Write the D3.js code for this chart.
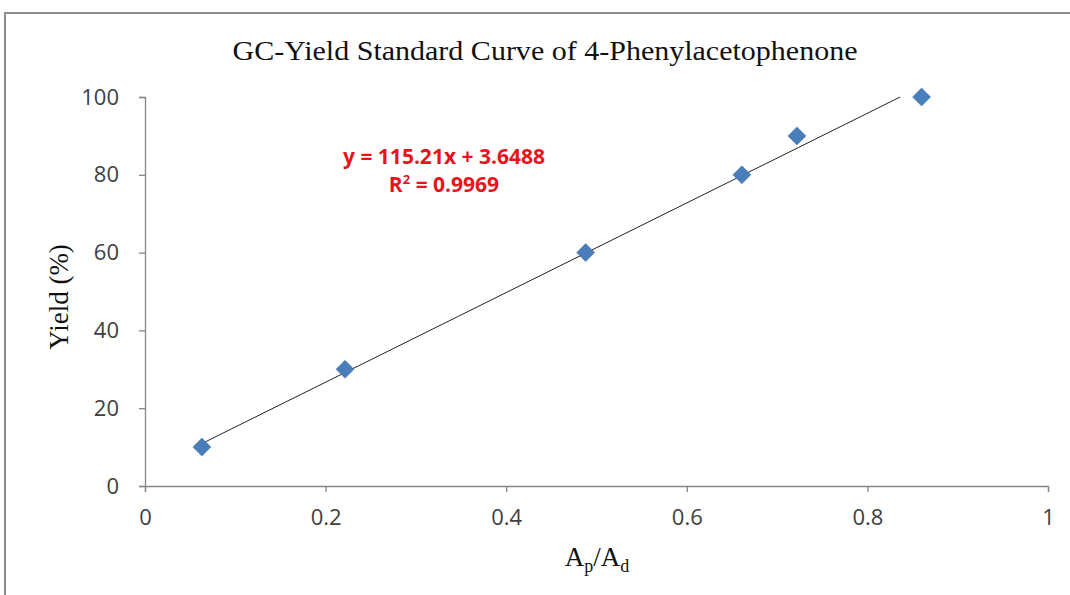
<!DOCTYPE html>
<meta charset="utf-8">
<style>
  body { margin: 0; background: #fff; }
  text { fill: #404040; }
</style>
<body>
<script src="https://cdn.jsdelivr.net/npm/d3@7"></script>
<script>

    var ratio = [0.063, 0.2215, 0.488, 0.661, 0.722, 0.860];
    var yieldPct = [10, 30, 60, 80, 90, 100];
    var xTicks = [0, 0.2, 0.4, 0.6, 0.8, 1];
    var yTicks = [0, 20, 40, 60, 80, 100];
    var slope = 115.21, intercept = 3.6488;

    var w = 1070, h = 595;

    var svg = d3.select("body")
            .append("svg")
            .attr("width", w)
            .attr("height", h);

    // chart border
    svg.append("rect")
            .attr("x", 5).attr("y", 13)
            .attr("width", 1100).attr("height", 700)
            .attr("fill", "none")
            .attr("stroke", "#8a8a8a")
            .attr("stroke-width", 2);

    var x = d3.scaleLinear().domain([0, 1]).range([145, 1048]);
    var y = d3.scaleLinear().domain([0, 100]).range([486, 97]);

    // axes
    var xAxis = svg.append("g")
            .attr("transform", "translate(0," + y(0) + ")")
            .call(d3.axisBottom(x).tickValues(xTicks).tickSize(6).tickFormat(d3.format("")));
    var yAxis = svg.append("g")
            .attr("transform", "translate(" + x(0) + ",0)")
            .call(d3.axisLeft(y).tickValues(yTicks).tickSize(6).tickFormat(d3.format("")));

    [xAxis, yAxis].forEach(function(g) {
        g.select(".domain").attr("stroke", "#868686").attr("stroke-width", 1.3);
        g.selectAll(".tick line").attr("stroke", "#868686").attr("stroke-width", 1.3);
        g.selectAll(".tick text")
                .attr("fill", "#404040")
                .style("font-family", "'Open Sans', sans-serif")
                .style("font-size", "22px");
    });
    xAxis.selectAll(".tick text").attr("y", 39).attr("dy", 0);
    yAxis.selectAll(".tick text").attr("x", -26);

    // trend line, from first point to top of the axis
    var x0 = d3.min(ratio), x1 = (100 - intercept) / slope;
    svg.append("line")
            .attr("x1", x(x0)).attr("y1", y(slope * x0 + intercept))
            .attr("x2", x(x1)).attr("y2", y(slope * x1 + intercept))
            .attr("stroke", "#222")
            .attr("stroke-width", 1);

    // diamond markers
    svg.selectAll("path.pt")
            .data(ratio)
            .enter()
            .append("path")
            .attr("class", "pt")
            .attr("transform", function(d, i) { return "translate(" + x(d) + "," + y(yieldPct[i]) + ")"; })
            .attr("d", "M0,-9L9,0L0,9L-9,0Z")
            .attr("fill", "#4a7ebb")
            .attr("stroke", "#3d6ea8")
            .attr("stroke-width", 0.5);

    // title
    svg.append("text")
            .attr("x", 545).attr("y", 60)
            .attr("text-anchor", "middle")
            .attr("textLength", 625)
            .attr("lengthAdjust", "spacingAndGlyphs")
            .style("font-family", "'Liberation Serif', serif")
            .style("font-size", "27px")
            .style("fill", "#111")
            .text("GC-Yield Standard Curve of 4-Phenylacetophenone");

    // axis titles
    svg.append("text")
            .attr("transform", "translate(68,297) rotate(-90)")
            .attr("text-anchor", "middle")
            .style("font-family", "'Liberation Serif', serif")
            .style("font-size", "27px")
            .style("fill", "#111")
            .text("Yield (%)");

    var xl = svg.append("text")
            .attr("x", 597).attr("y", 566)
            .attr("text-anchor", "middle")
            .style("font-family", "'Liberation Serif', serif")
            .style("font-size", "27px")
            .style("fill", "#111");
    xl.append("tspan").text("A");
    xl.append("tspan").attr("dy", 6).style("font-size", "18px").text("p");
    xl.append("tspan").attr("dy", -6).text("/A");
    xl.append("tspan").attr("dy", 6).style("font-size", "18px").text("d");

    // regression equation
    var eq = svg.append("text")
            .attr("text-anchor", "middle")
            .style("font-family", "'Open Sans', sans-serif")
            .style("font-weight", "bold")
            .style("font-size", "21px")
            .style("fill", "#e8141c");
    eq.append("tspan").attr("x", 444).attr("y", 164)
            .text("y = " + slope + "x + " + intercept);
    var r2 = eq.append("tspan").attr("x", 444).attr("y", 192);
    r2.append("tspan").text("R");
    r2.append("tspan").attr("dy", -8).style("font-size", "13px").text("2");
    r2.append("tspan").attr("dy", 8).text(" = 0.9969");

</script>
